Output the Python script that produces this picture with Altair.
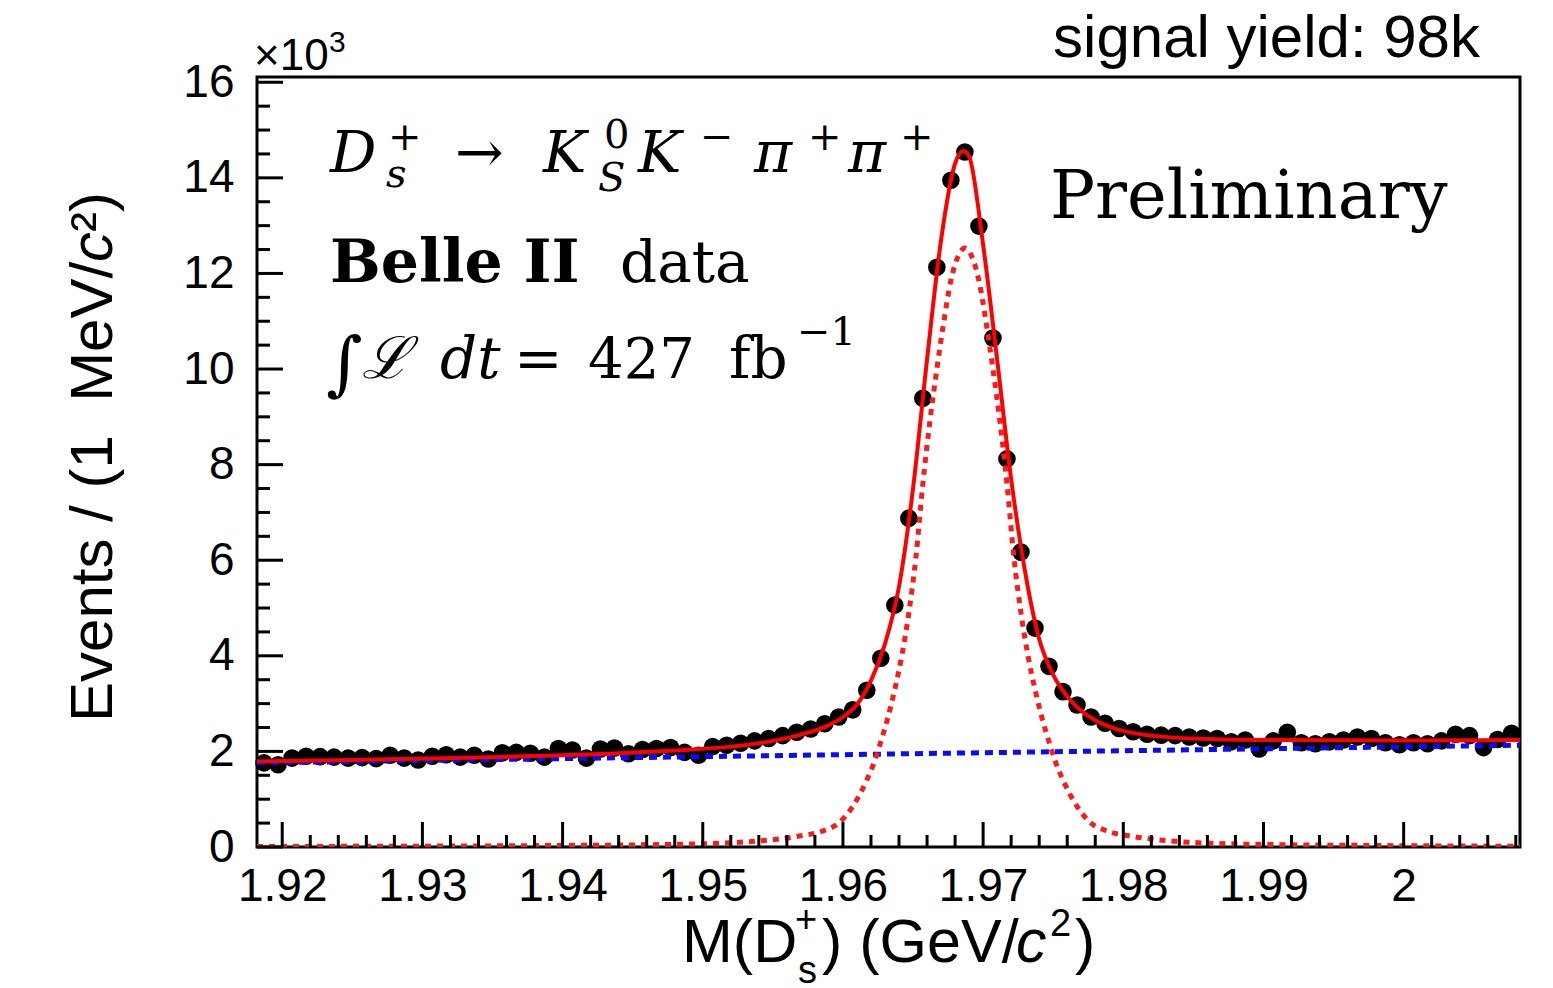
import altair as alt
import pandas as pd

# ---------------- data (values in units of 10^3 events / MeV) ----------------
bin_low = 1.9182
bin_width = 0.001
counts = [1.76, 1.72, 1.86, 1.90, 1.89, 1.88, 1.86, 1.87, 1.85, 1.92,
          1.86, 1.82, 1.90, 1.93, 1.88, 1.92, 1.84, 1.97, 1.98, 1.96,
          1.88, 2.06, 2.03, 1.86, 2.05, 2.07, 1.95, 2.04, 2.06, 2.08,
          1.98, 1.92, 2.10, 2.13, 2.17, 2.22, 2.27, 2.33, 2.40, 2.47,
          2.58, 2.72, 2.87, 3.28, 3.95, 5.06, 6.88, 9.39, 12.13, 13.95,
          14.54, 12.99, 10.65, 8.12, 6.17, 4.58, 3.78, 3.25, 2.97, 2.72,
          2.59, 2.48, 2.41, 2.36, 2.34, 2.33, 2.30, 2.28, 2.27, 2.20,
          2.24, 2.05, 2.22, 2.40, 2.18, 2.16, 2.20, 2.24, 2.30, 2.27,
          2.18, 2.14, 2.18, 2.16, 2.22, 2.36, 2.33, 2.08, 2.25, 2.38]
centers = [round(bin_low + bin_width * (i + 0.5), 5) for i in range(len(counts))]

total_x = [1.9182, 1.925, 1.935, 1.944, 1.948, 1.952, 1.955, 1.957, 1.959, 1.960,
           1.961, 1.962, 1.963, 1.964, 1.965, 1.966, 1.967, 1.968, 1.9686, 1.969,
           1.970, 1.971, 1.972, 1.973, 1.974, 1.975, 1.976, 1.977, 1.978, 1.979,
           1.980, 1.982, 1.985, 1.990, 2.000, 2.0083]
total_y = [1.79, 1.82, 1.88, 1.96, 2.02, 2.10, 2.22, 2.35, 2.55, 2.72,
           2.98, 3.48, 4.25, 5.45, 7.5, 10.2, 12.7, 14.3, 14.56, 14.45,
           12.6, 10.2, 7.7, 5.75, 4.35, 3.6, 3.15, 2.85, 2.65, 2.52,
           2.43, 2.33, 2.27, 2.24, 2.23, 2.24]

signal_x = [1.9182, 1.9387, 1.9487, 1.9537, 1.9567, 1.9587, 1.9597, 1.9607, 1.9617, 1.9622,
            1.9627, 1.9632, 1.9637, 1.9642, 1.9647, 1.9652, 1.9657, 1.9662, 1.9667, 1.9672,
            1.9677, 1.9682, 1.9687, 1.9692, 1.9697, 1.9702, 1.9707, 1.9712, 1.9717, 1.9722,
            1.9727, 1.9732, 1.9737, 1.9742, 1.9747, 1.9752, 1.9757, 1.9767, 1.9777, 1.9787,
            1.9807, 1.9837, 1.9887, 1.9987, 2.0083]
signal_y = [0.01, 0.03, 0.06, 0.12, 0.22, 0.35, 0.5, 0.85, 1.4, 1.75,
            2.2, 2.7, 3.3, 4.0, 4.9, 6.05, 7.6, 8.9, 10.0, 11.0,
            11.85, 12.35, 12.53, 12.35, 11.85, 11.0, 10.0, 8.9, 7.6, 6.05,
            4.9, 4.0, 3.3, 2.7, 2.2, 1.75, 1.4, 0.85, 0.5, 0.35,
            0.22, 0.12, 0.06, 0.03, 0.015]

bkg_x = [1.9182, 2.0083]
bkg_y = [1.76, 2.13]

x_major = [1.92, 1.93, 1.94, 1.95, 1.96, 1.97, 1.98, 1.99, 2.00]
x_minor = [round(1.92 + 0.002 * k, 4) for k in range(0, 45) if k % 5 != 0]
y_major = [0, 2, 4, 6, 8, 10, 12, 14, 16]
y_minor = [0.5 * k for k in range(0, 33) if k % 4 != 0]

# ---------------- layout ----------------
X0, Y0 = 257, 77          # plot-area origin on the page
W, H = 1263, 770
xs = alt.Scale(domain=[1.9182, 2.0083], nice=False, zero=False)
ys = alt.Scale(domain=[0, 16.11], nice=False, zero=False)

x_axis = alt.Axis(values=x_major, labelExpr="format(datum.value, '.2~f')", title=None,
                  tickSize=0, domain=False, grid=False, labelPadding=17,
                  labelFont="Liberation Sans", labelFontSize=46, labelColor="black",
                  labelFlush=False, labelOverlap=False)
y_axis = alt.Axis(values=y_major, format="d", title=None, tickSize=0, domain=False,
                  grid=False, labelPadding=23, labelFont="Liberation Sans",
                  labelFontSize=46, labelColor="black", labelOverlap=False)

pts = alt.Chart(pd.DataFrame({"m": centers, "n": counts})).mark_circle(
    size=310, color="black", opacity=1).encode(
    x=alt.X("m:Q", scale=xs, axis=x_axis), y=alt.Y("n:Q", scale=ys, axis=y_axis))

bkg = alt.Chart(pd.DataFrame({"m": bkg_x, "n": bkg_y})).mark_line(
    color="#0a0aff", strokeWidth=5, strokeDash=[8, 6], clip=True).encode(
    x=alt.X("m:Q", scale=xs, axis=x_axis), y=alt.Y("n:Q", scale=ys, axis=y_axis))

sig = alt.Chart(pd.DataFrame({"m": signal_x, "n": signal_y})).mark_line(
    color="#ff1a1a", strokeWidth=5, strokeDash=[6, 6], interpolate="monotone", clip=True).encode(
    x=alt.X("m:Q", scale=xs, axis=x_axis), y=alt.Y("n:Q", scale=ys, axis=y_axis))

tot = alt.Chart(pd.DataFrame({"m": total_x, "n": total_y})).mark_line(
    color="#ff0000", strokeWidth=4, interpolate="monotone", clip=True).encode(
    x=alt.X("m:Q", scale=xs, axis=x_axis), y=alt.Y("n:Q", scale=ys, axis=y_axis))

xt_major = alt.Chart(pd.DataFrame({"t": x_major})).mark_rule(color="black", strokeWidth=3).encode(
    x=alt.X("t:Q", scale=xs, axis=x_axis), y=alt.value(H), y2=alt.value(H - 25))
xt_minor = alt.Chart(pd.DataFrame({"t": x_minor})).mark_rule(color="black", strokeWidth=3).encode(
    x=alt.X("t:Q", scale=xs, axis=x_axis), y=alt.value(H), y2=alt.value(H - 12))
yt_major = alt.Chart(pd.DataFrame({"t": y_major})).mark_rule(color="black", strokeWidth=3).encode(
    y=alt.Y("t:Q", scale=ys, axis=y_axis), x=alt.value(0), x2=alt.value(26))
yt_minor = alt.Chart(pd.DataFrame({"t": y_minor})).mark_rule(color="black", strokeWidth=3).encode(
    y=alt.Y("t:Q", scale=ys, axis=y_axis), x=alt.value(0), x2=alt.value(13))


def txt(s, px, py, size, font="DejaVu Serif", style="normal", weight="normal",
        align="left", angle=0, baseline="alphabetic"):
    return alt.Chart(pd.DataFrame({"s": [s]})).mark_text(
        font=font, fontSize=size, fontStyle=style, fontWeight=weight, align=align,
        baseline=baseline, angle=angle, color="black").encode(
        x=alt.value(px - X0), y=alt.value(py - Y0), text="s:N")


SANS = "Liberation Sans"
texts = [
    # D_s^+ -> K_S^0 K^- pi^+ pi^+
    txt("D", 330, 172, 58, style="italic"),
    txt("+", 388, 150, 40),
    txt("s", 386, 187, 40, style="italic"),
    txt("→", 455, 172, 58),
    txt("K", 543, 172, 58, style="italic"),
    txt("0", 604, 148, 40),
    txt("S", 598, 191, 40, style="italic"),
    txt("K", 638, 172, 58, style="italic"),
    txt("−", 700, 150, 40),
    txt("π", 754, 172, 58, style="italic"),
    txt("+", 808, 150, 40),
    txt("π", 848, 172, 58, style="italic"),
    txt("+", 900, 150, 40),
    # Belle II data
    txt("Belle II", 330, 282, 60, weight="bold"),
    txt("data", 620, 282, 58),
    # integral L dt = 427 fb^-1
    txt("∫", 326, 387, 70),
    txt("ℒ", 362, 378, 58, style="italic"),
    txt("dt", 440, 378, 58, style="italic"),
    txt("=", 514, 378, 58),
    txt("427", 588, 378, 56),
    txt("fb", 729, 378, 58),
    txt("−1", 797, 345, 40),
    # Preliminary
    txt("Preliminary", 1050, 218, 67),
    # signal yield
    txt("signal yield: 98k", 1480, 57, 60, font=SANS, align="right"),
    # x10^3
    txt("×10", 254, 70, 44, font=SANS),
    txt("3", 329, 52, 30, font=SANS),
    # x-axis title
    txt("M(D", 682, 962, 61, font=SANS),
    txt("+", 795, 932, 38, font=SANS),
    txt("s", 798, 983, 38, font=SANS),
    txt(") (GeV/", 822, 962, 61, font=SANS),
    txt("c", 1016, 962, 61, font=SANS, style="italic"),
    txt("2", 1050, 936, 38, font=SANS),
    txt(")", 1075, 962, 61, font=SANS),
    # y-axis title (rotated, reading bottom to top)
    txt("Events / (1\u00a0 MeV/", 112, 722, 60, font=SANS, angle=270),
    txt("c", 112, 262, 60, font=SANS, style="italic", angle=270),
    txt("²)", 112, 232, 60, font=SANS, angle=270),
]

chart = alt.layer(pts, bkg, sig, tot, xt_major, xt_minor, yt_major, yt_minor, *texts).properties(
    width=W, height=H,
    autosize=alt.AutoSizeParams(type="none"),
    padding={"left": X0, "top": Y0, "right": 1553 - X0 - W, "bottom": 988 - Y0 - H},
    background="white",
).configure_view(stroke="black", strokeWidth=3)

chart.save("out.html", embed_options={"renderer": "svg", "actions": False})
